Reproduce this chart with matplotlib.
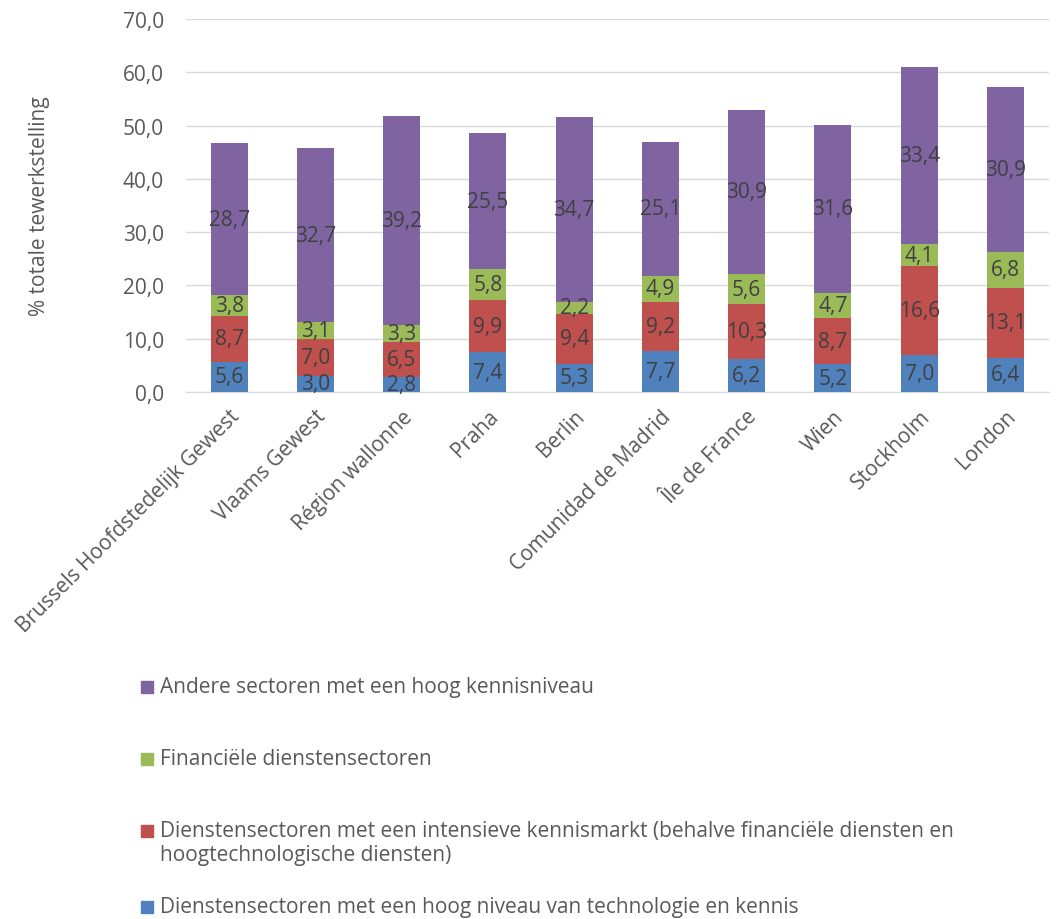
import matplotlib
matplotlib.use('Agg')
import matplotlib.pyplot as plt
from matplotlib.patches import Rectangle
import numpy as np

plt.rcParams['font.family'] = ['Open Sans', 'DejaVu Sans']

# data
regios = ['Brussels Hoofdstedelijk Gewest', 'Vlaams Gewest', 'Région wallonne', 'Praha', 'Berlin',
          'Comunidad de Madrid', 'Île de France', 'Wien', 'Stockholm', 'London']
hoogtech = [5.6, 3.0, 2.8, 7.4, 5.3, 7.7, 6.2, 5.2, 7.0, 6.4]
kennismarkt = [8.7, 7.0, 6.5, 9.9, 9.4, 9.2, 10.3, 8.7, 16.6, 13.1]
financieel = [3.8, 3.1, 3.3, 5.8, 2.2, 4.9, 5.6, 4.7, 4.1, 6.8]
andere = [28.7, 32.7, 39.2, 25.5, 34.7, 25.1, 30.9, 31.6, 33.4, 30.9]

reeksen = [hoogtech, kennismarkt, financieel, andere]
namen = ['Dienstensectoren met een hoog niveau van technologie en kennis',
         'Dienstensectoren met een intensieve kennismarkt (behalve financiële diensten en\nhoogtechnologische diensten)',
         'Financiële dienstensectoren',
         'Andere sectoren met een hoog kennisniveau']
kleuren = ['#4F81BD', '#C0504D', '#9BBB59', '#8064A2']

fs = 15
fig = plt.figure(figsize=(10.57, 9.2), dpi=100)
ax = fig.add_axes([0.176, 0.573, 0.816, 0.405])

x = np.arange(len(regios))
bodem = np.zeros(len(regios))
for waarden, naam, kleur in zip(reeksen, namen, kleuren):
    w = np.array(waarden)
    ax.bar(x, w, width=0.43, bottom=bodem, color=kleur, label=naam, zorder=3)
    for xi, yi, vi in zip(x, bodem, w):
        ax.text(xi, yi + vi / 2, ('%.1f' % vi).replace('.', ','), ha='center', va='center',
                fontsize=fs, color='#404040', zorder=4)
    bodem = bodem + w

ax.set_xlim(-0.5, 9.5)
ax.set_ylim(0, 70)
ax.set_yticks(np.arange(0, 71, 10))
ax.set_yticklabels([('%.1f' % v).replace('.', ',') for v in np.arange(0, 71, 10)])
ax.yaxis.grid(True, color='#D9D9D9', linewidth=1, zorder=0)
for s in ['top', 'right', 'left']:
    ax.spines[s].set_visible(False)
ax.spines['bottom'].set_color('#D9D9D9')
ax.tick_params(axis='y', length=0, labelsize=fs, colors='#595959', pad=16)
ax.tick_params(axis='x', length=0, labelsize=fs, colors='#595959', pad=10)
ax.set_xticks(x)
ax.set_xticklabels(regios, rotation=45, ha='right', rotation_mode='anchor')
ax.set_ylabel('% totale tewerkstelling', fontsize=fs, color='#595959')
ax.yaxis.set_label_coords(-0.158, 0.5)

# legenda onder de grafiek
leg_y = [688, 760, 832, 908]
volgorde = [3, 2, 1, 0]
for yp, i in zip(leg_y, volgorde):
    fy = 1 - yp / 920
    fig.patches.append(Rectangle((141 / 1057, fy - 6 / 920), 12 / 1057, 12 / 920,
                                 transform=fig.transFigure, color=kleuren[i]))
    fig.text(160 / 1057, fy + 11 / 920, namen[i], fontsize=fs, color='#595959',
             ha='left', va='top', linespacing=1.2)

fig.savefig('out.png', dpi=100)
